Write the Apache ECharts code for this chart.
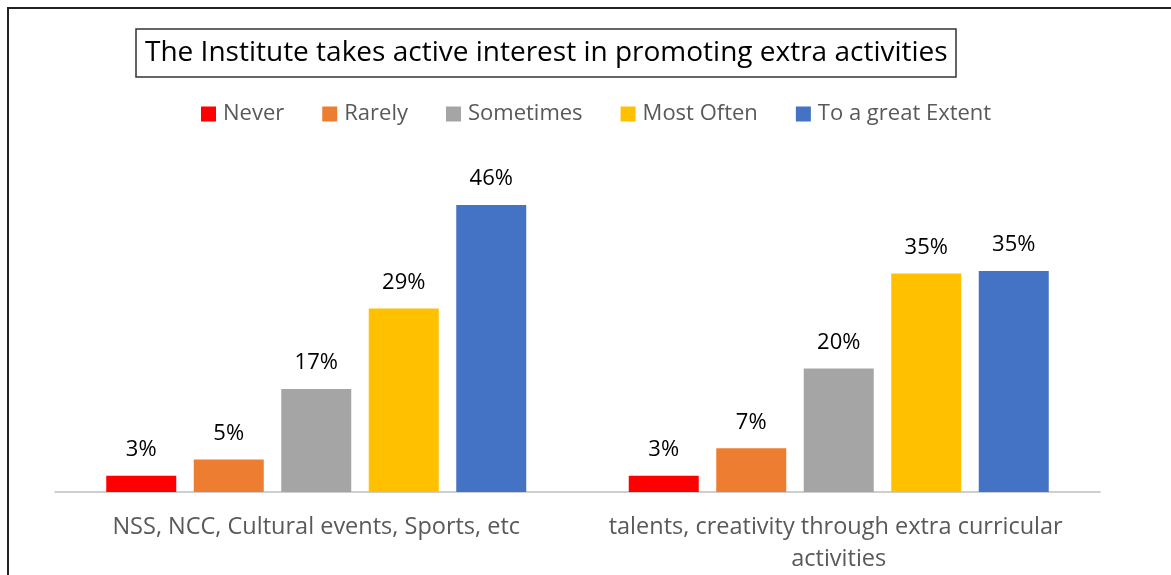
<!DOCTYPE html>
<html>
<head>
<meta charset="utf-8">
<script src="https://cdn.jsdelivr.net/npm/echarts@6/dist/echarts.min.js"></script>
<style>
html,body{margin:0;padding:0;background:#fff;}
#frame{position:absolute;left:7px;top:7px;width:1170px;height:575px;border-left:2px solid #222;border-top:2px solid #222;}
#chart{position:absolute;left:0;top:0;width:1171px;height:575px;}
</style>
</head>
<body>
<div id="frame"></div>
<div id="chart"></div>
<script>
const titleText = 'The Institute takes active interest in promoting extra activities';
const categories = ['NSS, NCC, Cultural events, Sports, etc', 'talents, creativity through extra curricular activities'];
const seriesNames = ['Never', 'Rarely', 'Sometimes', 'Most Often', 'To a great Extent'];
const never = [2.6, 2.6];
const rarely = [5.2, 7.0];
const sometimes = [16.5, 19.8];
const mostOften = [29.4, 35.0];
const greatExtent = [46.0, 35.4];
const colors = ['#FF0000', '#ED7D31', '#A5A5A5', '#FFC000', '#4472C4'];

const allValues = [never, rarely, sometimes, mostOften, greatExtent];
const font = '"Open Sans", sans-serif';

const chart = echarts.init(document.getElementById('chart'));
chart.setOption({
  animation: false,
  color: colors,
  title: {
    text: titleText,
    left: 136,
    top: 29,
    padding: [7, 9, 7, 9],
    borderColor: '#333',
    borderWidth: 1.5,
    textStyle: { fontFamily: font, fontSize: 28, fontWeight: 'normal', color: '#000', lineHeight: 34 }
  },
  legend: {
    top: 98,
    left: 196,
    itemWidth: 15,
    itemHeight: 15,
    itemGap: 38,
    icon: 'rect',
    textStyle: { fontFamily: font, fontSize: 22, color: '#595959', padding: [0, 0, 0, 2] },
    data: seriesNames
  },
  grid: { left: 55, right: 71, top: 180, bottom: 80 },
  xAxis: {
    type: 'category',
    data: categories,
    axisLine: { lineStyle: { color: '#BFBFBF', width: 1.5 } },
    axisTick: { show: false },
    axisLabel: {
      interval: 0,
      margin: 19,
      fontFamily: font,
      fontSize: 23.5,
      color: '#595959',
      lineHeight: 32,
      width: 500,
      overflow: 'break'
    }
  },
  yAxis: {
    type: 'value',
    min: 0,
    max: 50,
    show: false,
    splitLine: { show: false }
  },
  series: seriesNames.map((name, i) => ({
    name: name,
    type: 'bar',
    data: allValues[i],
    barWidth: 70,
    barGap: '25%',
    label: {
      show: true,
      position: 'top',
      distance: 15,
      fontFamily: font,
      fontSize: 22,
      color: '#000',
      formatter: p => Math.round(p.value) + '%'
    }
  }))
});
</script>
</body>
</html>
